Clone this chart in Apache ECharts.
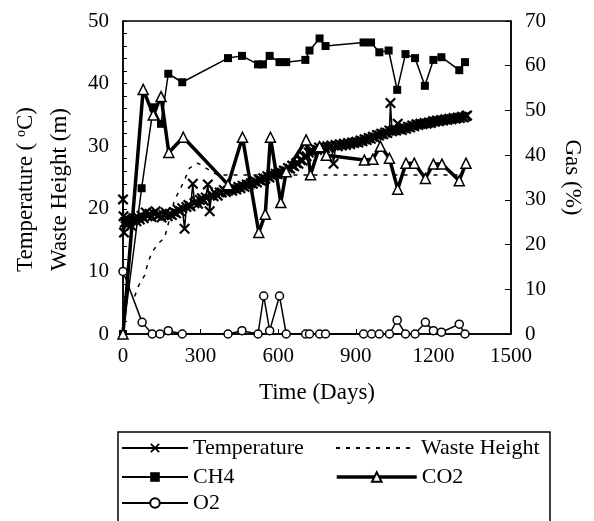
<!DOCTYPE html>
<html><head><meta charset="utf-8">
<script src="https://cdn.jsdelivr.net/npm/echarts@6/dist/echarts.min.js"></script>
<style>html,body{margin:0;padding:0;background:#fff}#c{width:594px;height:521px}</style>
</head><body><div id="c"></div>
<script>
const FONT = '"Liberation Serif", "Times New Roman", serif';

// Temperature (deg C) vs day
const tempDays = [0,2,4,7,10,14,18,22,27,32,38,45,52,58,65,72,80,88,95,103,110,118,126,133,141,149,157,165,173,181,189,197,205,213,221,229,238,245,253,261,270,276,283,290,297,305,312,320,328,335,342,350,358,366,374,382,390,398,406,414,422,430,438,446,454,462,470,478,486,494,502,510,518,526,534,542,550,558,566,574,582,590,598,606,614,622,630,638,646,654,662,670,678,686,694,702,710,718,726,734,742,750,758,766,774,782,790,798,806,814,822,830,838,846,854,862,870,878,886,894,902,910,918,926,934,942,950,958,966,974,982,990,998,1006,1014,1022,1030,1034,1040,1048,1056,1062,1070,1078,1086,1094,1102,1110,1118,1126,1134,1142,1150,1158,1166,1174,1182,1190,1198,1206,1214,1222,1230,1238,1246,1254,1262,1270,1278,1286,1294,1302,1310,1318,1326,1330];
const tempVals = [21.5,18.8,16.2,17.8,18.5,17.5,18.2,17.6,18.0,17.3,18.1,18.4,18.0,18.6,18.3,18.9,18.5,19.4,18.8,19.2,18.7,19.3,19.6,18.9,19.1,18.6,19.0,19.4,18.8,19.2,19.0,19.5,19.3,19.8,19.6,20.1,16.8,20.3,20.6,20.4,24.0,20.9,21.2,20.8,21.4,21.7,21.3,21.8,23.9,19.6,22.2,22.0,22.4,22.1,22.6,22.6,23.0,22.7,22.9,23.1,22.9,23.3,23.1,23.5,23.3,23.7,23.5,23.9,23.8,24.1,24.0,24.4,24.2,24.6,24.5,24.9,24.8,25.2,25.0,25.4,25.3,25.6,25.5,25.9,25.7,26.1,26.0,26.5,26.4,26.9,26.8,27.3,27.2,27.8,27.7,28.3,28.4,29.0,29.3,29.2,29.6,29.4,29.8,29.6,29.9,29.7,30.0,29.8,30.1,27.2,30.2,30.0,30.3,30.1,30.4,30.2,30.5,30.3,30.6,30.5,30.7,30.6,30.9,30.8,31.1,31.0,31.3,31.2,31.5,31.4,31.8,31.7,32.0,31.9,32.2,32.1,32.5,36.9,32.4,32.6,32.5,33.6,32.7,32.6,32.9,32.8,33.1,33.0,33.3,33.2,33.5,33.4,33.6,33.5,33.7,33.6,33.8,33.7,34.0,33.9,34.1,34.0,34.2,34.1,34.3,34.2,34.4,34.3,34.5,34.4,34.6,34.5,34.7,34.6,34.8,34.9];

// Waste height (m) vs day
const wasteDays = [45,60,84,96,112,138,161,199,218,238,257,289,321,366,1300];
const wasteVals = [6.0,7.7,9.4,11.3,13.1,14.5,15.4,21.4,22.9,24.6,26.5,27.3,26.5,25.4,25.4];

// CH4 (%) vs day
const ch4Days = [0,72,117,147,175,229,406,460,522,541,567,605,631,705,721,760,783,930,959,991,1027,1060,1092,1129,1167,1200,1231,1300,1322];
const ch4Vals = [0,32.6,50.7,47.0,58.2,56.3,61.7,62.2,60.3,60.3,62.2,60.8,60.8,61.3,63.4,66.1,64.4,65.2,65.2,63.0,63.4,54.6,62.6,61.7,55.5,61.3,61.9,59.0,60.8];

// CO2 (%) vs day
const co2Days = [0,78,117,147,177,233,406,462,525,550,570,610,631,708,725,760,786,933,966,995,1030,1062,1094,1126,1169,1200,1233,1300,1326];
const co2Vals = [0,54.7,49.0,53.1,40.6,44.0,33.4,44.0,22.7,26.8,44.0,29.4,36.3,43.4,35.6,41.9,40.0,38.9,39.1,42.0,39.3,32.4,38.2,38.2,34.8,38.0,38.0,34.3,38.2];

// O2 (%) vs day
const o2Days = [0,74,113,143,175,229,406,460,522,544,567,605,631,706,721,760,783,930,961,991,1030,1060,1092,1129,1169,1200,1231,1300,1322];
const o2Vals = [14.0,2.6,0,0,0.75,0,0,0.75,0,8.5,0.75,8.5,0,0,0,0,0,0,0,0,0,3.1,0,0,2.6,0.75,0.4,2.2,0];

const xMin = 0, xMax = 1500, xStep = 300;
const yLeftMin = 0, yLeftMax = 50, yLeftStep = 10;
const yRightMin = 0, yRightMax = 70, yRightStep = 10;

function pairs(d, v) { return d.map((x, i) => [x, v[i]]); }

const xMark = 'path://M0,1.4L1.4,0L5,3.6L8.6,0L10,1.4L6.4,5L10,8.6L8.6,10L5,6.4L1.4,10L0,8.6L3.6,5Z';

const chart = echarts.init(document.getElementById('c'), null, {renderer: 'canvas'});

const txt = {fontFamily: FONT, color: '#000'};
const legendBase = {
  orient: 'horizontal', padding: 0, itemGap: 0, itemHeight: 12,
  textStyle: Object.assign({fontSize: 22, padding: [0, 0, 0, 0]}, txt),
  selectedMode: false
};
function lg(item, left, top, w, extra) {
  return Object.assign({}, legendBase, {data: [item], left: left, top: top, itemWidth: w}, extra || {});
}
const plain = v => String(v);

chart.setOption({
  animation: false,
  backgroundColor: '#fff',
  grid: {left: 123, right: 83, top: 21, bottom: 187, show: true, borderColor: '#000', borderWidth: 1.5, backgroundColor: 'transparent'},
  xAxis: {
    type: 'value', min: xMin, max: xMax, interval: xStep,
    name: 'Time (Days)', nameLocation: 'middle', nameGap: 47,
    nameTextStyle: Object.assign({fontSize: 23}, txt),
    axisLine: {lineStyle: {color: '#000', width: 1.5}},
    axisTick: {inside: true, length: 5, lineStyle: {color: '#000'}},
    axisLabel: Object.assign({fontSize: 21, margin: 12, formatter: plain}, txt),
    splitLine: {show: false}
  },
  yAxis: [{
    type: 'value', position: 'left', min: yLeftMin, max: yLeftMax, interval: yLeftStep,
    name: '{a|Temperature ( }{s|o}{a|C)}\n{a|Waste Height (m)}',
    nameLocation: 'middle', nameRotate: 90, nameGap: 34,
    nameTextStyle: Object.assign({fontSize: 23, lineHeight: 34, padding: [0, 24, 0, 0],
      rich: {a: {fontFamily: FONT, fontSize: 23, lineHeight: 34, color: '#000'},
             s: {fontFamily: FONT, fontSize: 14, lineHeight: 14, verticalAlign: 'top', padding: [5, 0, 0, 0], color: '#000'}}}, txt),
    axisLine: {show: true, lineStyle: {color: '#000', width: 1.5}},
    axisTick: {inside: true, length: 4, lineStyle: {color: '#000'}},
    minorTick: {show: true, splitNumber: 5, length: 4, lineStyle: {color: '#000'}},
    axisLabel: Object.assign({fontSize: 21, margin: 14, formatter: plain}, txt),
    splitLine: {show: false}
  }, {
    type: 'value', position: 'right', min: yRightMin, max: yRightMax, interval: yRightStep,
    name: 'Gas (%)', nameLocation: 'middle', nameRotate: -90, nameGap: 50,
    nameTextStyle: Object.assign({fontSize: 23}, txt),
    axisLine: {show: true, lineStyle: {color: '#000', width: 1.5}},
    axisTick: {inside: true, length: 6, lineStyle: {color: '#000'}},
    axisLabel: Object.assign({fontSize: 21, margin: 14, formatter: plain}, txt),
    splitLine: {show: false}
  }],
  legend: [
    lg('Temperature', 121, 437, 66),
    lg({name: 'Waste Height', itemStyle: {opacity: 0, borderWidth: 0}}, 335, 437, 80),
    lg('CH4', 121, 466, 66),
    lg('CO2', 335, 466, 80, {lineStyle: {width: 3.5, color: '#000'}}),
    lg('O2', 121, 492, 66)
  ],
  graphic: [{type: 'rect', shape: {x: 118, y: 432, width: 432, height: 100}, style: {fill: 'none', stroke: '#000', lineWidth: 1.5}, silent: true, z: 0}],
  series: [
    {name: 'Temperature', type: 'line', yAxisIndex: 0, data: pairs(tempDays, tempVals),
     symbol: xMark, symbolSize: 11, showAllSymbol: true,
     lineStyle: {color: '#000', width: 1.5}, itemStyle: {color: '#000'}, z: 3},
    {name: 'Waste Height', type: 'line', yAxisIndex: 0, data: pairs(wasteDays, wasteVals),
     symbol: 'none', lineStyle: {color: '#000', width: 1.5, type: [4, 6]}, itemStyle: {color: '#000'}, z: 2},
    {name: 'CH4', type: 'line', yAxisIndex: 1, data: pairs(ch4Days, ch4Vals),
     symbol: 'rect', symbolSize: 8, showAllSymbol: true,
     lineStyle: {color: '#000', width: 1.5}, itemStyle: {color: '#000'}, z: 4},
    {name: 'CO2', type: 'line', yAxisIndex: 1, data: pairs(co2Days, co2Vals),
     symbol: 'triangle', symbolSize: 10, showAllSymbol: true,
     lineStyle: {color: '#000', width: 3.5}, itemStyle: {color: '#fff', borderColor: '#000', borderWidth: 1.5}, z: 5},
    {name: 'O2', type: 'line', yAxisIndex: 1, data: pairs(o2Days, o2Vals),
     symbol: 'circle', symbolSize: 8, showAllSymbol: true,
     lineStyle: {color: '#000', width: 1.5}, itemStyle: {color: '#fff', borderColor: '#000', borderWidth: 1.5}, z: 6}
  ]
});
</script></body></html>
